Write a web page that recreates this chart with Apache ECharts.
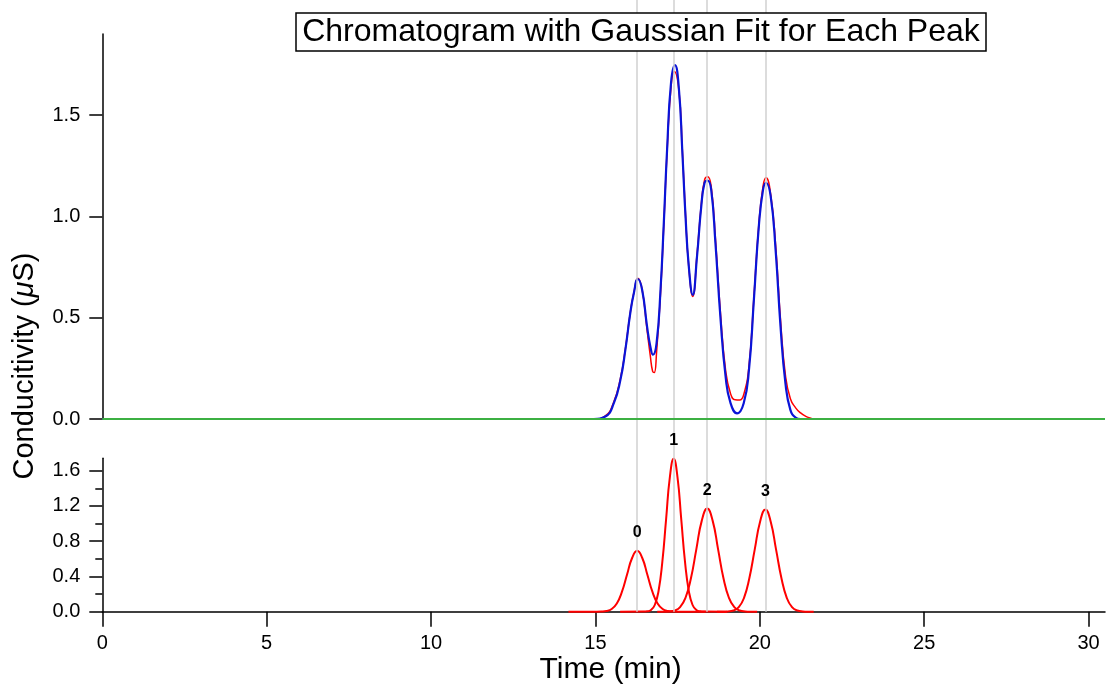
<!DOCTYPE html>
<html><head><meta charset="utf-8">
<script src="https://cdn.jsdelivr.net/npm/echarts@6/dist/echarts.min.js"></script>
<style>html,body{margin:0;padding:0;background:#fff}#c{width:1112px;height:686px}</style>
</head><body><div id="c"></div>
<script>
const titleText = 'Chromatogram with Gaussian Fit for Each Peak';
const xTicks = [0, 5, 10, 15, 20, 25, 30];
const topYTicks = [0, 0.5, 1.0, 1.5];
const bottomYTicks = [0, 0.4, 0.8, 1.2, 1.6];
const bottomYMinor = [0.2, 0.6, 1.0, 1.4];
const peakCenters = [16.27, 17.38, 18.40, 20.17];
const peakLabels = ['0', '1', '2', '3'];

// measured chromatogram (red)
const dataTime = [0, 14.6, 14.95, 15.30, 15.56, 15.76, 15.91, 16.06, 16.17, 16.29, 16.42, 16.57, 16.67, 16.74, 16.79, 16.86, 16.98, 17.08, 17.18, 17.30, 17.40, 17.54, 17.64, 17.74, 17.84, 17.96, 18.09, 18.22, 18.32, 18.41, 18.52, 18.65, 18.80, 18.96, 19.11, 19.25, 19.39, 19.51, 19.67, 19.82, 19.97, 20.10, 20.19, 20.33, 20.48, 20.63, 20.78, 20.93, 21.09, 21.24, 21.40, 21.55, 21.64, 22.0, 30.5];
const dataValue = [0, 0, 0, 0.015, 0.085, 0.20, 0.345, 0.525, 0.625, 0.695, 0.64, 0.44, 0.31, 0.235, 0.229, 0.33, 0.62, 0.96, 1.32, 1.64, 1.715, 1.62, 1.34, 1.01, 0.75, 0.605, 0.81, 1.06, 1.18, 1.195, 1.15, 0.89, 0.53, 0.24, 0.125, 0.095, 0.094, 0.12, 0.26, 0.60, 0.96, 1.15, 1.19, 1.11, 0.86, 0.49, 0.215, 0.10, 0.055, 0.03, 0.013, 0.004, 0, 0, 0];

// total fit (blue)
const fitTime = [0, 14.6, 14.95, 15.30, 15.56, 15.76, 15.91, 16.06, 16.17, 16.29, 16.42, 16.57, 16.67, 16.75, 16.86, 16.98, 17.08, 17.18, 17.30, 17.42, 17.54, 17.64, 17.74, 17.84, 17.96, 18.09, 18.22, 18.32, 18.41, 18.52, 18.65, 18.80, 18.96, 19.11, 19.31, 19.51, 19.67, 19.82, 19.97, 20.10, 20.19, 20.33, 20.48, 20.63, 20.78, 20.93, 21.09, 21.24, 21.6, 30.5];
const fitValue = [0, 0, 0, 0.012, 0.078, 0.193, 0.341, 0.523, 0.622, 0.691, 0.638, 0.457, 0.358, 0.317, 0.374, 0.638, 0.968, 1.330, 1.660, 1.746, 1.627, 1.330, 1.001, 0.753, 0.613, 0.803, 1.050, 1.166, 1.177, 1.133, 0.869, 0.506, 0.209, 0.078, 0.028, 0.078, 0.242, 0.589, 0.951, 1.133, 1.166, 1.100, 0.836, 0.457, 0.176, 0.045, 0.007, 0, 0, 0];

// baseline (green)
const baseTime = [0, 30.5];
const baseValue = [0, 0];

// individual Gaussian peaks (red, lower panel)
const g0Time = [14.18, 15.03, 15.185, 15.34, 15.495, 15.65, 15.805, 15.96, 16.115, 16.27, 16.425, 16.58, 16.735, 16.89, 17.045, 17.2, 17.355, 17.51, 18.35];
const g0Value = [0, 0.0002, 0.0015, 0.0077, 0.0303, 0.0934, 0.224, 0.4185, 0.609, 0.69, 0.609, 0.4185, 0.224, 0.0934, 0.0303, 0.0077, 0.0015, 0.0002, 0];
const g1Time = [15.75, 16.46, 16.575, 16.69, 16.805, 16.92, 17.035, 17.15, 17.265, 17.38, 17.495, 17.61, 17.725, 17.84, 17.955, 18.07, 18.185, 18.30, 19.0];
const g1Value = [0, 0.001, 0.004, 0.019, 0.076, 0.235, 0.565, 1.05, 1.53, 1.735, 1.53, 1.05, 0.565, 0.235, 0.076, 0.019, 0.004, 0.001, 0];
const g2Time = [16.88, 17.08, 17.245, 17.41, 17.575, 17.74, 17.905, 18.07, 18.235, 18.40, 18.565, 18.73, 18.895, 19.06, 19.225, 19.39, 19.555, 19.72, 19.92];
const g2Value = [0, 0.0004, 0.003, 0.013, 0.051, 0.158, 0.380, 0.710, 1.033, 1.17, 1.033, 0.710, 0.380, 0.158, 0.051, 0.013, 0.003, 0.0004, 0];
const g3Time = [18.70, 18.87, 19.03, 19.195, 19.36, 19.52, 19.68, 19.845, 20.01, 20.17, 20.33, 20.495, 20.66, 20.82, 20.98, 21.145, 21.31, 21.47, 21.64];
const g3Value = [0, 0.0004, 0.003, 0.013, 0.051, 0.157, 0.377, 0.704, 1.024, 1.16, 1.024, 0.704, 0.377, 0.157, 0.051, 0.013, 0.003, 0.0004, 0];

const FONT = '"Liberation Sans", Arial, Helvetica, sans-serif';
const zip = (a, b) => a.map((t, i) => [t, b[i]]);
const gauss = [[g0Time, g0Value], [g1Time, g1Value], [g2Time, g2Value], [g3Time, g3Value]];

const chart = echarts.init(document.getElementById('c'), null, {renderer: 'canvas'});
const axisLineStyle = {color: '#000', width: 1.5};
const X_MAX = 30.5;

const option = {
  animation: false,
  backgroundColor: '#fff',
  textStyle: {fontFamily: FONT},
  title: {
    text: titleText, left: 635, top: 13, textAlign: 'center',
    borderColor: '#000', borderWidth: 1.5, backgroundColor: '#fff',
    padding: [3, 6, 3, 6],
    textStyle: {fontSize: 32, fontWeight: 'normal', color: '#000', fontFamily: FONT}
  },
  graphic: [{
    type: 'text', x: 25, y: 366, rotation: Math.PI / 2,
    style: {
      text: '{a|Conducitivity (}{b|μ}{a|S)}',
      rich: {
        a: {fontSize: 29, fontFamily: FONT, fill: '#000', color: '#000'},
        b: {fontSize: 29, fontFamily: FONT, fontStyle: 'italic', fill: '#000', color: '#000'}
      },
      align: 'center', verticalAlign: 'middle'
    }
  }],
  grid: [
    {left: 102.3, right: 7, top: 34, bottom: 267, containLabel: false},
    {left: 102.3, right: 7, top: 458.3, bottom: 74.3, containLabel: false},
    {left: 102.3, right: 7, top: 0, bottom: 74.3, containLabel: false}
  ],
  xAxis: [
    {type: 'value', gridIndex: 0, min: 0, max: X_MAX, show: false},
    {type: 'value', gridIndex: 1, min: 0, max: X_MAX,
      axisLine: {show: true, onZero: false, lineStyle: axisLineStyle},
      axisTick: {show: true, length: 15, lineStyle: axisLineStyle, customValues: xTicks},
      axisLabel: {color: '#000', fontSize: 20, margin: 22, customValues: xTicks, formatter: v => String(v)},
      splitLine: {show: false},
      name: 'Time (min)', nameLocation: 'middle', nameGap: 40,
      nameTextStyle: {fontSize: 30, color: '#000', padding: [0, 0, 0, 14]}
    },
    {type: 'value', gridIndex: 2, min: 0, max: X_MAX, show: false}
  ],
  yAxis: [
    {type: 'value', gridIndex: 0, min: 0, max: 1.9, position: 'left',
      axisLine: {show: true, onZero: false, lineStyle: axisLineStyle},
      axisTick: {show: true, length: 13, lineStyle: axisLineStyle, customValues: topYTicks},
      axisLabel: {color: '#000', fontSize: 20, margin: 22, customValues: topYTicks, formatter: v => v.toFixed(1)},
      splitLine: {show: false}
    },
    {type: 'value', gridIndex: 1, min: 0, max: 1.74, position: 'left',
      axisLine: {show: true, onZero: false, lineStyle: axisLineStyle},
      axisTick: {show: true, length: 13, lineStyle: axisLineStyle, customValues: bottomYTicks},
      axisLabel: {color: '#000', fontSize: 20, margin: 22, customValues: bottomYTicks, formatter: v => v.toFixed(1)},
      splitLine: {show: false}
    },
    {type: 'value', gridIndex: 1, min: 0, max: 1.74, position: 'left', offset: 0,
      axisLine: {show: false},
      axisTick: {show: true, length: 7, lineStyle: axisLineStyle, customValues: bottomYMinor},
      axisLabel: {show: false},
      splitLine: {show: false}
    },
    {type: 'value', gridIndex: 2, min: 0, max: 1, show: false}
  ],
  series: [
    {type: 'line', xAxisIndex: 2, yAxisIndex: 3, data: [[0, 0]], symbol: 'none', silent: true,
      lineStyle: {opacity: 0}, z: 1,
      markLine: {silent: true, symbol: ['none', 'none'], label: {show: false},
        lineStyle: {color: '#d0d0d0', width: 1.5, type: 'solid'},
        data: peakCenters.map(c => ({xAxis: c}))}
    },
    {type: 'line', xAxisIndex: 0, yAxisIndex: 0, data: zip(dataTime, dataValue), symbol: 'none',
      smooth: 0.5, lineStyle: {color: '#ff0000', width: 1.5}, z: 3},
    {type: 'line', xAxisIndex: 0, yAxisIndex: 0, data: zip(fitTime, fitValue), symbol: 'none',
      smooth: 0.5, lineStyle: {color: '#0a14d8', width: 2.2}, z: 4},
    {type: 'line', xAxisIndex: 0, yAxisIndex: 0, data: zip(baseTime, baseValue), symbol: 'none',
      lineStyle: {color: '#3cb043', width: 2}, z: 5},
    ...gauss.map((g, i) => ({
      type: 'line', xAxisIndex: 1, yAxisIndex: 1, data: zip(g[0], g[1]), symbol: 'none',
      smooth: 0.5, lineStyle: {color: '#ff0000', width: 2}, z: 3, clip: false,
      markPoint: {symbol: 'circle', symbolSize: 0, silent: true,
        data: [{type: 'max'}],
        label: {show: true, position: 'top', distance: 10, formatter: peakLabels[i],
          color: '#000', fontSize: 16, fontWeight: 'bold', fontFamily: FONT}}
    }))
  ]
};
chart.setOption(option);
</script></body></html>
